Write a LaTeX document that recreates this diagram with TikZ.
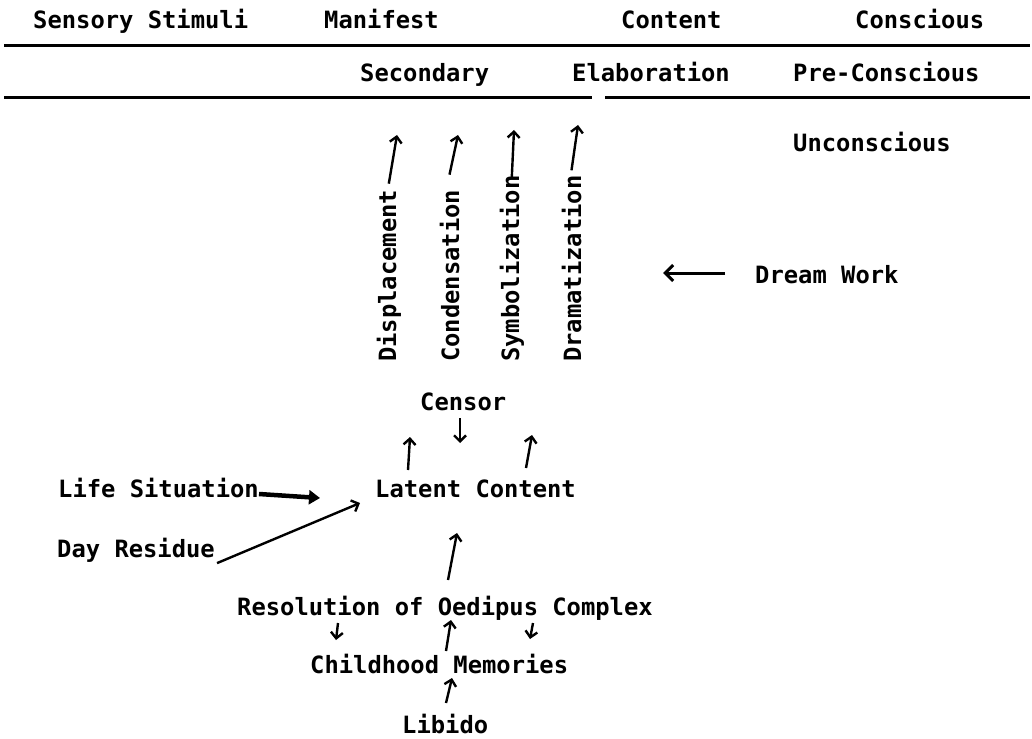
\documentclass[tikz,border=0pt]{standalone}
\usepackage{fontspec}
\setmonofont{DejaVu Sans Mono}
\usetikzlibrary{arrows.meta}
\begin{document}
\begin{tikzpicture}[x=1pt,y=-1pt,
  lbl/.style={font=\ttfamily\bfseries\fontsize{23.8}{28}\selectfont, inner sep=0pt, anchor=base west},
  vlbl/.style={lbl, rotate=90},
  rulez/.style={line width=3pt},
  arr/.style={line width=2.4pt, -{Straight Barb[length=6pt,width=12pt]}},
  thickarr/.style={line width=4.5pt, -{Triangle[length=11pt,width=14pt]}},
]
\useasboundingbox[fill=white] (0,0) rectangle (1032,738);

% top rows
\node[lbl] (sens) at (33,29) {Sensory Stimuli};
\node[lbl] (manif) at (324,29) {Manifest};
\node[lbl] (cont) at (621,29) {Content};
\node[lbl] (consc) at (855,29) {Conscious};
\draw[rulez] (4,46) -- (1030,46);
\node[lbl] (second) at (360,82) {Secondary};
\node[lbl] (elab) at (572,82) {Elaboration};
\node[lbl] (precon) at (793,82) {Pre-Conscious};
\draw[rulez] (4,98) -- (592,98);
\draw[rulez] (605,98) -- (1030,98);
\node[lbl] (uncon) at (793,152) {Unconscious};

% vertical labels
\node[vlbl] (disp) at (396,362) {Displacement};
\node[vlbl] (cond) at (459,362) {Condensation};
\node[vlbl] (symb) at (519,362) {Symbolization};
\node[vlbl] (dram) at (581,362) {Dramatization};
\coordinate (dispT) at (397,135);
\coordinate (condT) at (458,135);
\coordinate (symbT) at (514,130);
\coordinate (dramT) at (578,125);
\draw[arr] ([yshift=6pt]disp.east) -- (dispT);
\draw[arr] ([yshift=15pt]cond.east) -- (condT);
\draw[arr] ([yshift=-2pt]symb.east) -- (symbT);
\draw[arr] ([yshift=5pt]dram.east) -- (dramT);

% dream work
\node[lbl] (dream) at (755,283) {Dream Work};
\coordinate (dreamT) at (663,273);
\draw[line width=3pt, -{Straight Barb[length=8pt,width=16pt]}] ([xshift=-30pt]dream.west |- 0,273) -- (dreamT);

% censor and latent content
\node[lbl] (censor) at (420,410) {Censor};
\node[lbl] (latent) at (375,497) {Latent Content};
\coordinate (censorT) at (460,443);
\draw[arr] (460,418) -- (censorT);
\coordinate (latA) at (410,437);
\coordinate (latB) at (532,435);
\draw[arr] (408,470) -- (latA);
\draw[arr] (526,468) -- (latB);

% life situation, day residue
\node[lbl] (life) at (58,497) {Life Situation};
\node[lbl] (day) at (57,557) {Day Residue};
\coordinate (lifeT) at (320,498);
\coordinate (dayT) at (360,503);
\draw[thickarr] (life.east |- 0,494) -- (lifeT);
\draw[arr] ([xshift=2pt,yshift=-1pt]day.south east) -- (dayT);

% lower chain
\node[lbl] (oed) at (237,615) {Resolution of Oedipus Complex};
\node[lbl] (child) at (310,673) {Childhood Memories};
\node[lbl] (libido) at (402,733) {Libido};
\coordinate (oedT) at (457,533);
\draw[arr] (448,580) -- (oedT);
\coordinate (dA) at (336,640);
\coordinate (dB) at (530,639);
\draw[arr] (338,623) -- (dA);
\draw[arr] (533,623) -- (dB);
\coordinate (cT) at (451,620);
\draw[arr] (446,651) -- (cT);
\coordinate (lT) at (452,678);
\draw[arr] (446,703) -- (lT);
\end{tikzpicture}
\end{document}
